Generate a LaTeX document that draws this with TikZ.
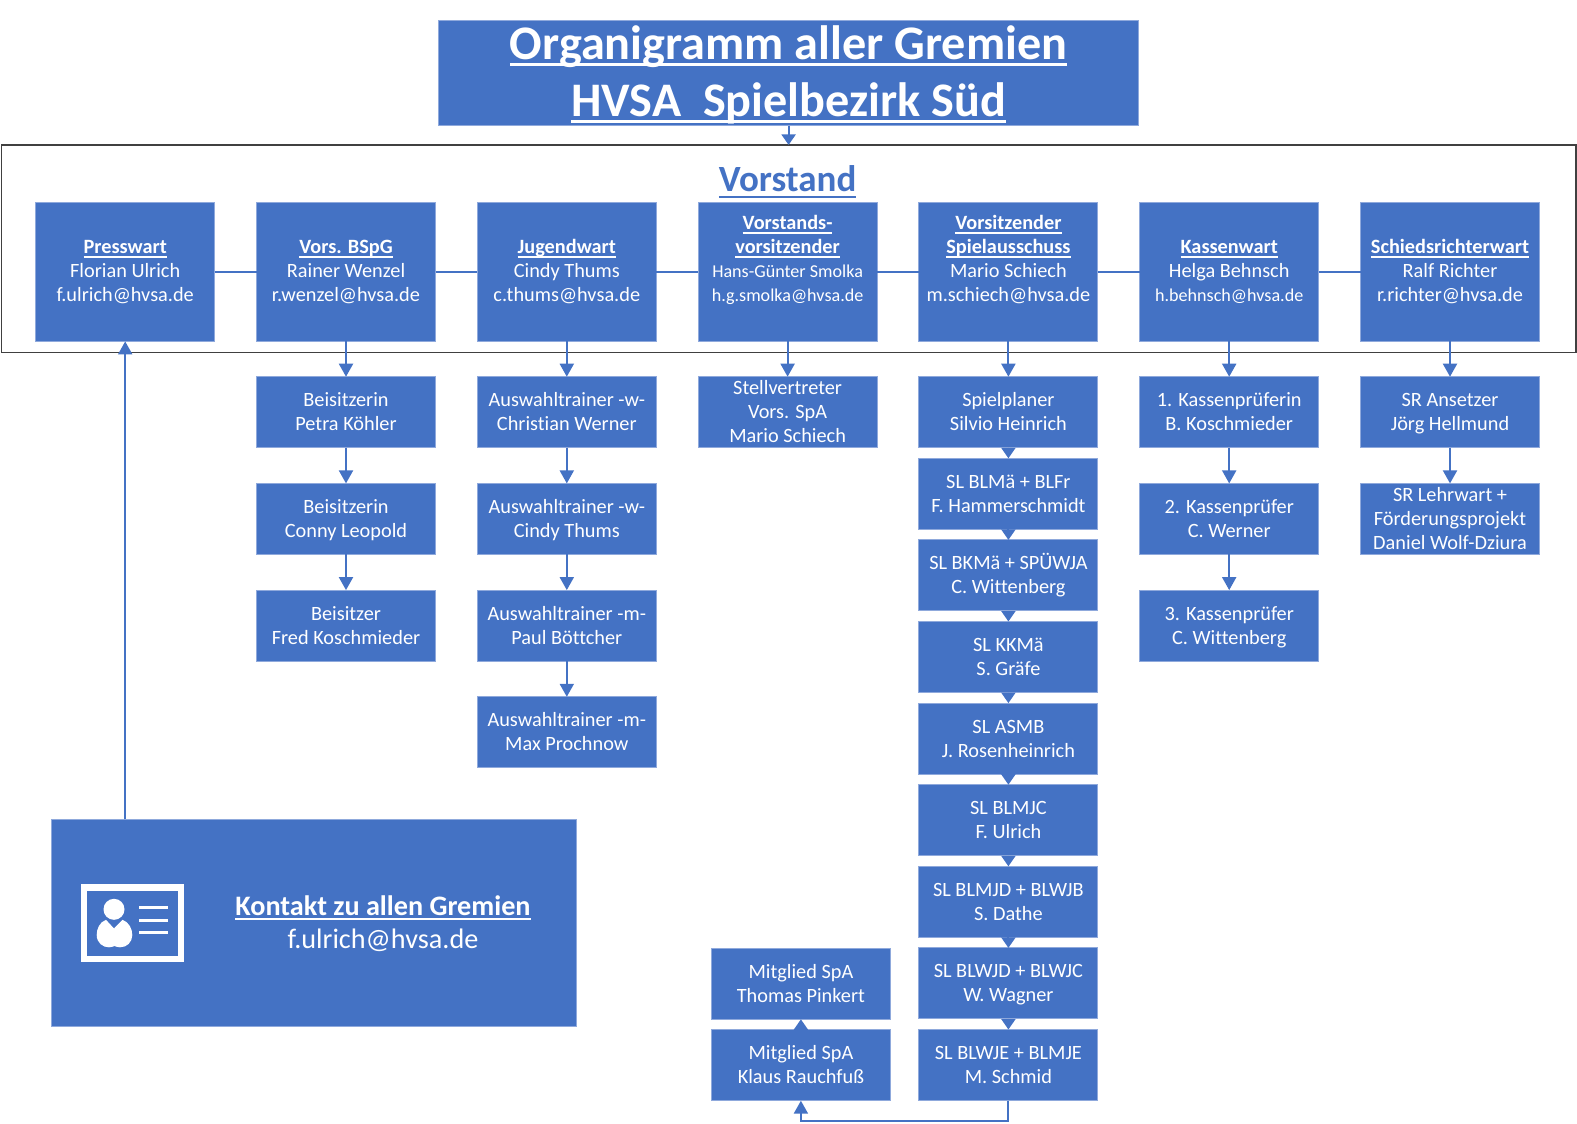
\documentclass[tikz,border=0pt]{standalone}
\usepackage{fontspec}
\setmainfont[Ligatures=NoCommon]{Carlito}
\usetikzlibrary{arrows.meta}
\definecolor{hvsablue}{HTML}{4472C4}
\definecolor{hvsaedge}{HTML}{8FA9DC}
\definecolor{hvsaframe}{HTML}{404040}
\newcommand{\linie}[3]{\leavevmode\setbox0\hbox{#3}\rlap{\rule[-#2]{\wd0}{#1}}\box0}
\newcommand{\kopf}[1]{\linie{1.4pt}{3.6pt}{\textbf{#1}}}
\newcommand{\klein}[1]{{\fontsize{18.1}{24}\selectfont #1}}
\tikzset{
	unit/.style={rectangle, draw=hvsaedge, line width=0.9pt, fill=hvsablue, text=white, align=center, inner sep=0pt, outer sep=0pt, minimum width=179pt, font=\fontsize{20.3}{24}\selectfont},
	headbox/.style={unit, minimum height=139pt, text height=60pt, text depth=0pt},
	subbox/.style={unit, minimum height=71pt, text height=37pt, text depth=0pt},
	subboxlong/.style={subbox, text height=61pt},
	link/.style={draw=hvsablue, line width=2pt},
	conn/.style={link, -{Triangle[length=13pt,width=14pt]}},
	connshort/.style={link, -{Triangle[length=10.5pt,width=14pt]}}
}

\begin{document}
\begin{tikzpicture}[x=1pt,y=-1pt]
	\useasboundingbox (0,0) rectangle (1577,1124);

	% frame and title
	\node[rectangle, draw=hvsaframe, line width=1.3pt, inner sep=0pt, outer sep=0pt, minimum width=1574.5pt, minimum height=207.5pt] (frame) at (788.6,248.7) {};
	\node[unit, minimum width=700.5pt, minimum height=105.5pt, inner ysep=-2pt, text height=98.4pt, text depth=10pt, font=\fontsize{48.2}{57.4}\selectfont] (title) at (788.6,72.8) {\linie{3pt}{6pt}{\textbf{Organigramm aller Gremien}}\\ \linie{3pt}{6pt}{\textbf{HVSA\ \ Spielbezirk Süd}}};
	\node[text=hvsablue, inner sep=0pt, font=\fontsize{37}{40}\selectfont] (vorstand) at (787.6,182) {\linie{2.4pt}{6.5pt}{\textbf{Vorstand}}};

	% board
	\node[headbox] (press) at (125.2,271.9) {\kopf{Presswart}\\ Florian Ulrich\\ f.ulrich@hvsa.de};
	\node[headbox] (bspg) at (346,271.9) {\kopf{Vors. BSpG}\\ Rainer Wenzel\\ r.wenzel@hvsa.de};
	\node[headbox] (jugend) at (566.8,271.9) {\kopf{Jugendwart}\\ Cindy Thums\\ c.thums@hvsa.de};
	\node[headbox] (vors) at (787.6,271.9) {\kopf{Vorstands-}\\ \kopf{vorsitzender}\\ \klein{Hans-Günter Smolka}\\ \klein{h.g.smolka@hvsa.de}};
	\node[headbox] (spa) at (1008.4,271.9) {\kopf{Vorsitzender}\\ \kopf{Spielausschuss}\\ Mario Schiech\\ m.schiech@hvsa.de};
	\node[headbox] (kasse) at (1229.2,271.9) {\kopf{Kassenwart}\\ Helga Behnsch\\ \klein{h.behnsch@hvsa.de}};
	\node[headbox] (sr) at (1450,271.9) {\kopf{Schiedsrichterwart}\\ Ralf Richter\\ r.richter@hvsa.de};

	% BSpG
	\node[subbox] (bei1) at (346,412.2) {Beisitzerin\\ Petra Köhler};
	\node[subbox] (bei2) at (346,518.9) {Beisitzerin\\ Conny Leopold};
	\node[subbox] (bei3) at (346,625.6) {Beisitzer\\ Fred Koschmieder};

	% Jugend
	\node[subbox] (tr1) at (566.8,412.2) {Auswahltrainer -w-\\ Christian Werner};
	\node[subbox] (tr2) at (566.8,518.9) {Auswahltrainer -w-\\ Cindy Thums};
	\node[subbox] (tr3) at (566.8,625.6) {Auswahltrainer -m-\\ Paul Böttcher};
	\node[subbox] (tr4) at (566.8,732.3) {Auswahltrainer -m-\\ Max Prochnow};

	\node[subboxlong] (stv) at (787.6,412.2) {Stellvertreter\\ Vors. SpA\\ Mario Schiech};

	% Spielausschuss
	\node[subbox] (sl1) at (1008.4,412.2) {Spielplaner\\ Silvio Heinrich};
	\node[subbox] (sl2) at (1008.4,493.8) {SL BLMä + BLFr\\ F. Hammerschmidt};
	\node[subbox] (sl3) at (1008.4,575.4) {SL BKMä + SPÜWJA\\ C. Wittenberg};
	\node[subbox] (sl4) at (1008.4,657) {SL KKMä\\ S. Gräfe};
	\node[subbox] (sl5) at (1008.4,738.6) {SL ASMB\\ J. Rosenheinrich};
	\node[subbox] (sl6) at (1008.4,820.2) {SL BLMJC\\ F. Ulrich};
	\node[subbox] (sl7) at (1008.4,901.8) {SL BLMJD + BLWJB\\ S. Dathe};
	\node[subbox] (sl8) at (1008.4,983.4) {SL BLWJD + BLWJC\\ W. Wagner};
	\node[subbox] (sl9) at (1008.4,1065) {SL BLWJE + BLMJE\\ M. Schmid};
	\node[subbox] (mit1) at (800.9,1065.2) {Mitglied SpA\\ Klaus Rauchfuß};
	\node[subbox] (mit2) at (800.9,983.8) {Mitglied SpA\\ Thomas Pinkert};

	% Kasse
	\node[subbox] (kp1) at (1229.2,412.2) {1. Kassenprüferin\\ B. Koschmieder};
	\node[subbox] (kp2) at (1229.2,518.9) {2. Kassenprüfer\\ C. Werner};
	\node[subbox] (kp3) at (1229.2,625.6) {3. Kassenprüfer\\ C. Wittenberg};

	% SR
	\node[subbox] (sr1) at (1450,412.2) {SR Ansetzer\\ Jörg Hellmund};
	\node[subboxlong] (sr2) at (1450,518.9) {SR Lehrwart +\\ Förderungsprojekt\\ Daniel Wolf-Dziura};

	% contact
	\node[unit, minimum width=524.5pt, minimum height=207.4pt] (contact) at (314,923) {};
	\node[text=white, align=center, inner sep=0pt, font=\fontsize{28.2}{33}\selectfont] (contacttext) at (383,924) {\linie{1.8pt}{4pt}{\textbf{Kontakt zu allen Gremien}}\\ f.ulrich@hvsa.de};
	\draw[white, line width=6.5pt] (84,887.6) rectangle (181,959);
	\fill[white] (114,909.3) circle (10.5);
	\fill[white] (114,928.5) -- (106,919.8) .. controls (99.5,922) and (96.7,929) .. (96.7,935) .. controls (96.7,943) and (103,947.4) .. (109,947.3) .. controls (111,947.3) and (113,946.6) .. (114.5,946) .. controls (116,946.6) and (118,947.3) .. (120,947.3) .. controls (127,947.4) and (132.3,942) .. (132.3,935) .. controls (132.3,929) and (129,922) .. (122.5,919.8) -- cycle;
	\draw[white, line width=3pt] (139,907.7) -- (168,907.7);
	\draw[white, line width=3pt] (139,920.2) -- (168,920.2);
	\draw[white, line width=3pt] (139,932.7) -- (168,932.7);

	% connectors
	\draw[connshort] (title.south) -- (frame.north);
	\draw[link] (press) -- (bspg);
	\draw[link] (bspg) -- (jugend);
	\draw[link] (jugend) -- (vors);
	\draw[link] (vors) -- (spa);
	\draw[link] (spa) -- (kasse);
	\draw[link] (kasse) -- (sr);
	\draw[conn] (bspg) -- (bei1);
	\draw[conn] (bei1) -- (bei2);
	\draw[conn] (bei2) -- (bei3);
	\draw[conn] (jugend) -- (tr1);
	\draw[conn] (tr1) -- (tr2);
	\draw[conn] (tr2) -- (tr3);
	\draw[conn] (tr3) -- (tr4);
	\draw[conn] (vors) -- (stv);
	\draw[conn] (spa) -- (sl1);
	\draw[connshort] (sl1) -- (sl2);
	\draw[connshort] (sl2) -- (sl3);
	\draw[connshort] (sl3) -- (sl4);
	\draw[connshort] (sl4) -- (sl5);
	\draw[connshort] (sl5) -- (sl6);
	\draw[connshort] (sl6) -- (sl7);
	\draw[connshort] (sl7) -- (sl8);
	\draw[connshort] (sl8) -- (sl9);
	\draw[conn] (sl9.south) -- ++(0,20.8) -| (mit1.south);
	\draw[connshort] (mit1) -- (mit2);
	\draw[conn] (kasse) -- (kp1);
	\draw[conn] (kp1) -- (kp2);
	\draw[conn] (kp2) -- (kp3);
	\draw[conn] (sr) -- (sr1);
	\draw[conn] (sr1) -- (sr2);
	\draw[conn] (press |- contact.north) -- (press.south);
\end{tikzpicture}
\end{document}
